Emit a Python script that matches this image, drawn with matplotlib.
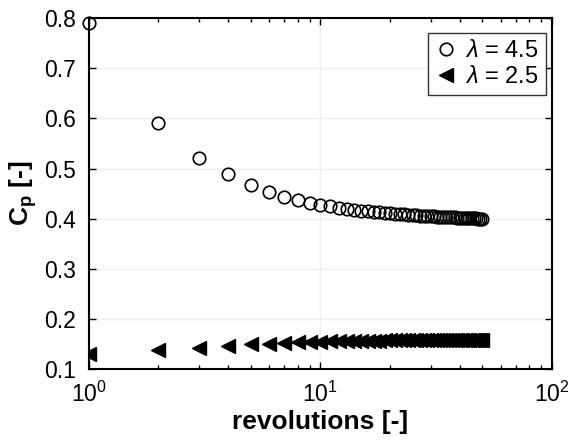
import matplotlib
matplotlib.use("Agg")
import matplotlib.pyplot as plt

plt.rcParams['font.family'] = ['Liberation Sans', 'DejaVu Sans']
plt.rcParams['mathtext.fontset'] = 'custom'
plt.rcParams['mathtext.rm'] = 'Liberation Sans'
plt.rcParams['mathtext.it'] = 'Liberation Sans:italic'
plt.rcParams['mathtext.bf'] = 'Liberation Sans:bold'

# revolutions 1..50
revs = list(range(1, 51))

# Cp for lambda = 4.5
cp_45 = [0.790, 0.590, 0.521, 0.489, 0.467, 0.453, 0.444, 0.437, 0.432, 0.428,
         0.425, 0.422, 0.420, 0.418, 0.416, 0.415, 0.414, 0.413, 0.412, 0.411,
         0.410, 0.409, 0.409, 0.408, 0.407, 0.407, 0.406, 0.406, 0.405, 0.405,
         0.405, 0.404, 0.404, 0.404, 0.403, 0.403, 0.403, 0.403, 0.402, 0.402,
         0.402, 0.402, 0.401, 0.401, 0.401, 0.401, 0.401, 0.400, 0.400, 0.400]

# Cp for lambda = 2.5
cp_25 = [0.131, 0.139, 0.143, 0.147, 0.150, 0.151, 0.152, 0.153, 0.154, 0.154,
         0.155, 0.155, 0.155, 0.156, 0.156, 0.156, 0.156, 0.156, 0.157, 0.157,
         0.157, 0.157, 0.157, 0.157, 0.157, 0.157, 0.157, 0.158, 0.158, 0.158,
         0.158, 0.158, 0.158, 0.158, 0.158, 0.158, 0.158, 0.158, 0.158, 0.158,
         0.158, 0.158, 0.158, 0.158, 0.158, 0.158, 0.158, 0.158, 0.158, 0.158]

fig = plt.figure(figsize=(5.69, 4.42), dpi=100)
ax = fig.add_axes([0.156, 0.165, 0.814, 0.794])

ax.plot(revs, cp_45, 'o', mfc='none', mec='black', mew=1.2, ms=9,
        label=r'$\lambda$ = 4.5', clip_on=False)
ax.plot(revs, cp_25, '<', color='black', ms=10.5, label=r'$\lambda$ = 2.5')

ax.set_xscale('log')
ax.set_xlim(1, 100)
ax.set_ylim(0.1, 0.8)
ax.set_yticks([0.1, 0.2, 0.3, 0.4, 0.5, 0.6, 0.7, 0.8])

ax.grid(True, which='major', color='#efefef', linewidth=1.0)
ax.set_axisbelow(True)
ax.tick_params(which='both', direction='in', top=True, right=True,
               labelsize=16.5, width=1.0)
ax.tick_params(axis='both', which='major', pad=9, length=5)
ax.tick_params(which='minor', length=3)
for s in ax.spines.values():
    s.set_linewidth(1.5)

ax.set_xlabel('revolutions [-]', fontsize=19, fontweight='bold', labelpad=2)
ax.set_ylabel(r'$\mathbf{C_p}$ [-]', fontsize=19, fontweight='bold', labelpad=4)

leg = ax.legend(loc='upper right', fontsize=17, frameon=True, fancybox=False,
                edgecolor='black', handletextpad=0.3, handlelength=1.0,
                borderpad=0.3, labelspacing=0.15, borderaxespad=0,
                bbox_to_anchor=(0.987, 0.957))
leg.get_frame().set_linewidth(1.0)

fig.savefig('out.png', dpi=100)
